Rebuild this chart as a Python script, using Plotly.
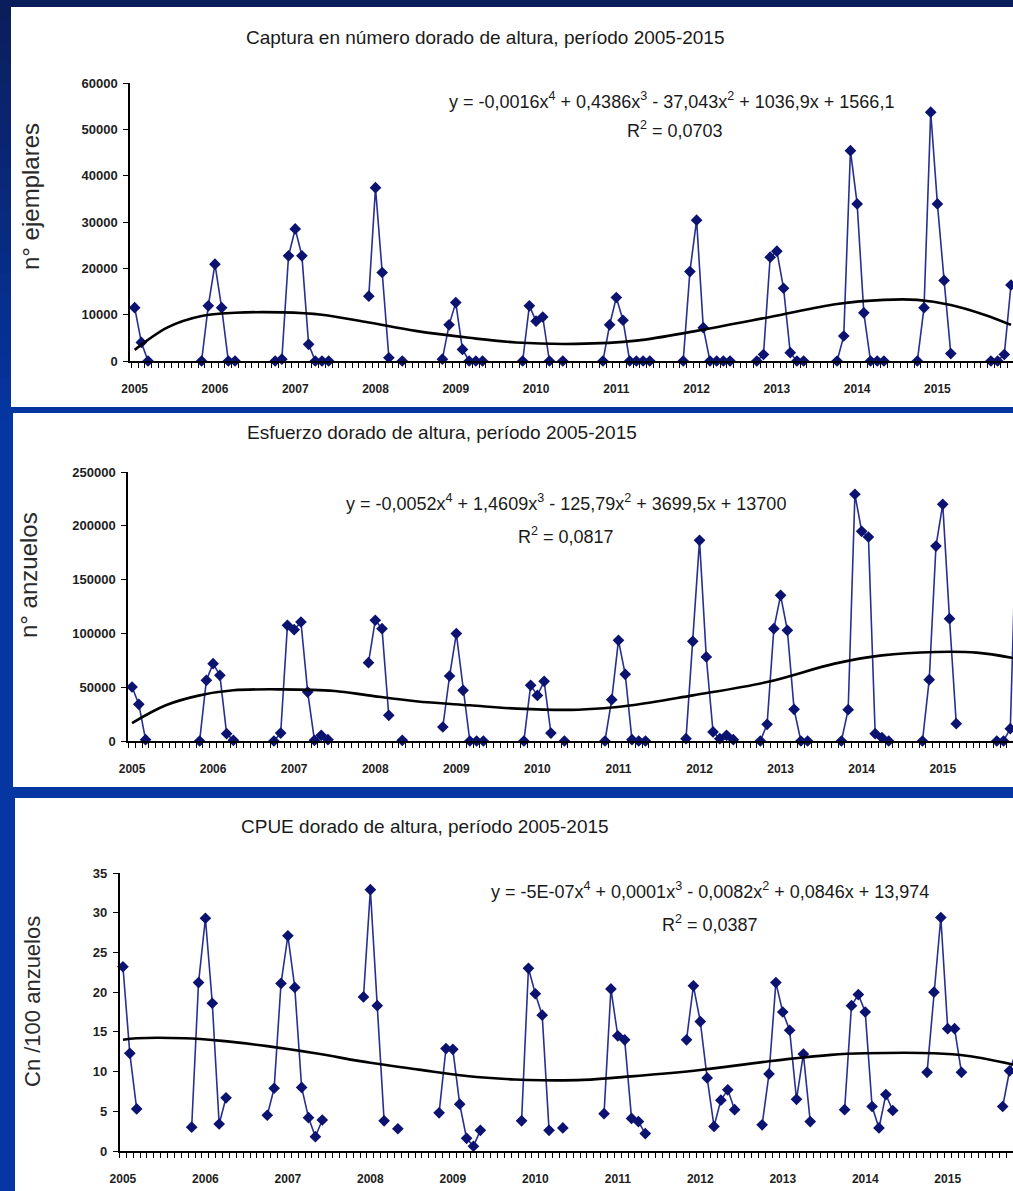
import plotly.graph_objects as go

W, H = 1013, 1191
_ = None

# ---------------- data (month index 0 = Jan 2005) ----------------
months = list(range(132))
year_ticks = [0, 12, 24, 36, 48, 60, 72, 84, 96, 108, 120]
year_labels = ["2005", "2006", "2007", "2008", "2009", "2010",
               "2011", "2012", "2013", "2014", "2015"]

captura = [
    11500, 4000, 0, _, _, _, _, _, _, _, 0, 11900,
    20900, 11500, 0, 0, _, _, _, _, _, 0, 400, 22700,
    28500, 22700, 3600, 0, 0, 0, _, _, _, _, _, 14000,
    37400, 19100, 700, _, 0, _, _, _, _, _, 400, 7800,
    12600, 2500, 0, 0, 0, _, _, _, _, _, 0, 11900,
    8600, 9500, 0, _, 0, _, _, _, _, _, 0, 7800,
    13700, 8800, 0, 0, 0, 0, _, _, _, _, 0, 19300,
    30400, 7200, 0, 0, 0, 0, _, _, _, 0, 1400, 22400,
    23700, 15700, 1800, 0, 0, _, _, _, _, 0, 5400, 45400,
    33900, 10400, 0, 0, 0, _, _, _, _, 0, 11500, 53700,
    33900, 17400, 1600, _, _, _, _, _, 0, 0, 1400, 16400,
]

esfuerzo = [
    50200, 34100, 1200, _, _, _, _, _, _, _, 0, 56400,
    71900, 61000, 6800, 600, _, _, _, _, _, 0, 7400, 107500,
    103500, 110600, 45500, 600, 5300, 1200, _, _, _, _, _, 72800,
    112200, 104400, 23900, _, 600, _, _, _, _, _, 13000, 60400,
    99800, 47100, 0, 0, 0, _, _, _, _, _, 0, 51700,
    42400, 55500, 7400, _, 0, _, _, _, _, _, 0, 38400,
    93600, 62000, 1200, 0, 0, _, _, _, _, _, 2200, 92600,
    186500, 78100, 8400, 2200, 5300, 1200, _, _, _, 0, 15500, 104400,
    135400, 102900, 29400, 0, 0, _, _, _, _, 0, 29100, 229300,
    194900, 189600, 6800, 3100, 0, _, _, _, _, 0, 57000, 181200,
    220000, 113700, 16100, _, _, _, _, _, 0, 0, 11500, 226000,
]

cpue = [
    23.2, 12.3, 5.3, _, _, _, _, _, _, _, 3.0, 21.2,
    29.3, 18.6, 3.4, 6.7, _, _, _, _, _, 4.5, 7.9, 21.1,
    27.1, 20.6, 8.0, 4.2, 1.8, 3.9, _, _, _, _, _, 19.4,
    32.9, 18.3, 3.8, _, 2.8, _, _, _, _, _, 4.8, 12.9,
    12.8, 5.9, 1.6, 0.6, 2.6, _, _, _, _, _, 3.8, 23.0,
    19.8, 17.1, 2.6, _, 2.9, _, _, _, _, _, 4.7, 20.4,
    14.5, 14.0, 4.1, 3.7, 2.2, _, _, _, _, _, 14.0, 20.8,
    16.3, 9.2, 3.1, 6.4, 7.7, 5.2, _, _, _, 3.3, 9.7, 21.2,
    17.5, 15.2, 6.5, 12.2, 3.7, _, _, _, _, 5.2, 18.3, 19.7,
    17.5, 5.6, 2.9, 7.1, 5.1, _, _, _, _, 9.9, 20.0, 29.4,
    15.4, 15.4, 9.9, _, _, _, _, _, 5.6, 10.1, 12.6, _,
]

# polynomial trend lines
trend1_x = [0, 5, 10, 15, 22, 28, 35, 42, 50, 57, 66, 75, 84, 95, 105, 112, 117, 122, 127, 131]
trend1_y = [2400, 7300, 9700, 10400, 10500, 10000, 8300, 6500, 5000, 4000, 3700, 4400,
            6500, 9500, 12300, 13200, 13200, 12100, 10000, 7800]
trend2_x = [0, 5, 10, 15, 22, 30, 35, 42, 50, 57, 66, 74, 83, 94, 104, 111, 119, 125, 131]
trend2_y = [16700, 33200, 42400, 47100, 48000, 46500, 42400, 36900, 33200, 30100, 29100,
            33200, 42400, 54800, 71900, 79600, 82700, 82100, 76500]
trend3_x = [0, 2, 9, 14, 21, 28, 36, 43, 50, 57, 61, 67, 74, 84, 94, 103, 108, 118, 123, 130]
trend3_y = [14.0, 14.2, 14.2, 13.9, 13.2, 12.3, 11.1, 10.25, 9.45, 9.0, 8.9, 8.95, 9.4,
            10.2, 11.3, 12.1, 12.3, 12.3, 11.95, 10.8]

titles = ["Captura en número dorado de altura, período 2005-2015",
          "Esfuerzo dorado de altura, período 2005-2015",
          "CPUE dorado de altura, período 2005-2015"]
equations = ["y = -0,0016x<sup>4</sup> + 0,4386x<sup>3</sup> - 37,043x<sup>2</sup> + 1036,9x + 1566,1",
             "y = -0,0052x<sup>4</sup> + 1,4609x<sup>3</sup> - 125,79x<sup>2</sup> + 3699,5x + 13700",
             "y = -5E-07x<sup>4</sup> + 0,0001x<sup>3</sup> - 0,0082x<sup>2</sup> + 0,0846x + 13,974"]
r2_texts = ["R<sup>2</sup> = 0,0703", "R<sup>2</sup> = 0,0817", "R<sup>2</sup> = 0,0387"]
y_titles = ["n° ejemplares", "n° anzuelos", "Cn /100 anzuelos"]

# ---------------- layout geometry (pixels) ----------------
FONT = "Liberation Sans, Arial, sans-serif"
LINE_C = "#27308F"
MARK_C = "#0B1270"

panels = [
    dict(y=captura, tx=trend1_x, ty=trend1_y, ymax=60000, dtick=10000,
         ax_x=130, top=83, bot=361, xr=[-0.7, 131.3],
         box=(11, 7, 1013, 407), title_xy=(485, 38),
         eq_xy=(671, 101), r2_xy=(675, 129), yt_xy=(30, 197), yt_size=24),
    dict(y=esfuerzo, tx=trend2_x, ty=trend2_y, ymax=250000, dtick=50000,
         ax_x=128, top=472, bot=741, xr=[-0.6, 130.4],
         box=(13, 413, 1013, 787), title_xy=(442, 432),
         eq_xy=(566, 503), r2_xy=(566, 535), yt_xy=(28, 575), yt_size=24),
    dict(y=cpue, tx=trend3_x, ty=trend3_y, ymax=35, dtick=5,
         ax_x=119.5, top=873, bot=1151, xr=[-0.5, 129.5],
         box=(15, 798, 1013, 1191), title_xy=(425, 826),
         eq_xy=(710, 890), r2_xy=(710, 923), yt_xy=(32, 1002), yt_size=22),
]

fig = go.Figure()
shapes = []
annotations = []

# background gradient (slide design)
c0 = (11, 30, 92)
c1 = (5, 54, 162)
nb = 21
for k in range(nb):
    t = k / (nb - 1)
    col = "rgb(%d,%d,%d)" % tuple(round(a + (b - a) * t) for a, b in zip(c0, c1))
    shapes.append(dict(type="rect", xref="paper", yref="paper", layer="below",
                       x0=0, x1=1, y0=1 - (k * 21) / H, y1=1 - ((k + 1) * 21 + 1) / H,
                       fillcolor=col, line=dict(width=0)))

for n, p in enumerate(panels, start=1):
    sfx = "" if n == 1 else str(n)
    xa, ya = "x" + sfx, "y" + sfx
    x0, y0, x1, y1 = p["box"]
    shapes.append(dict(type="rect", xref="paper", yref="paper", layer="below",
                       x0=x0 / W, x1=x1 / W, y0=1 - y0 / H, y1=1 - y1 / H,
                       fillcolor="white", line=dict(width=0)))

    fig.add_trace(go.Scatter(
        x=months, y=p["y"], mode="lines+markers", connectgaps=False, cliponaxis=False,
        line=dict(color=LINE_C, width=1.6),
        marker=dict(symbol="diamond", size=9, color=MARK_C),
        xaxis=xa, yaxis=ya, showlegend=False, hoverinfo="x+y"))
    fig.add_trace(go.Scatter(
        x=p["tx"], y=p["ty"], mode="lines",
        line=dict(color="black", width=2.6, shape="spline", smoothing=1.0),
        xaxis=xa, yaxis=ya, showlegend=False, hoverinfo="skip"))

    fig.layout["xaxis" + sfx] = dict(
        domain=[p["ax_x"] / W, 1], range=p["xr"], anchor=ya, automargin=False,
        showline=True, linecolor="black", linewidth=1.5, mirror=False,
        showgrid=False, zeroline=False, ticks="",
        tickmode="array", tickvals=year_ticks, ticktext=year_labels,
        tickfont=dict(family=FONT, size=12, color="#1e1e1e", weight="bold"),
        ticklabelstandoff=16,
        minor=dict(tickmode="array", tickvals=[i - 0.5 for i in range(0, 133)],
                   ticks="outside", ticklen=5, tickwidth=1, tickcolor="black",
                   showgrid=False),
    )
    fig.layout["yaxis" + sfx] = dict(
        domain=[1 - p["bot"] / H, 1 - p["top"] / H], range=[0, p["ymax"]], anchor=xa,
        automargin=False,
        showline=True, linecolor="black", linewidth=1.5,
        showgrid=False, zeroline=False, ticks="outside", ticklen=5, tickcolor="black",
        tickmode="linear", tick0=0, dtick=p["dtick"], tickformat="d",
        tickfont=dict(family=FONT, size=13, color="#1e1e1e", weight="bold"),
        ticklabelstandoff=3,
    )

    annotations += [
        dict(text=titles[n - 1], x=p["title_xy"][0] / W, y=1 - p["title_xy"][1] / H,
             xref="paper", yref="paper", xanchor="center", yanchor="middle",
             showarrow=False, font=dict(family=FONT, size=19, color="#1a1a1a")),
        dict(text=equations[n - 1], x=p["eq_xy"][0] / W, y=1 - p["eq_xy"][1] / H,
             xref="paper", yref="paper", xanchor="center", yanchor="middle",
             showarrow=False, font=dict(family=FONT, size=18, color="#1a1a1a")),
        dict(text=r2_texts[n - 1], x=p["r2_xy"][0] / W, y=1 - p["r2_xy"][1] / H,
             xref="paper", yref="paper", xanchor="center", yanchor="middle",
             showarrow=False, font=dict(family=FONT, size=18, color="#1a1a1a")),
        dict(text=y_titles[n - 1], x=p["yt_xy"][0] / W, y=1 - p["yt_xy"][1] / H,
             xref="paper", yref="paper", xanchor="center", yanchor="middle",
             textangle=-90, showarrow=False,
             font=dict(family=FONT, size=p["yt_size"], color="#2a2a2a")),
    ]

fig.update_layout(
    width=W, height=H, margin=dict(l=0, r=0, t=0, b=0, autoexpand=False),
    paper_bgcolor="rgb(5,54,162)", plot_bgcolor="rgba(0,0,0,0)",
    shapes=shapes, annotations=annotations, showlegend=False,
)

fig.write_html("out.html", config={"displayModeBar": False},
               post_script="document.body.style.margin='0';document.body.style.overflow='hidden';")
